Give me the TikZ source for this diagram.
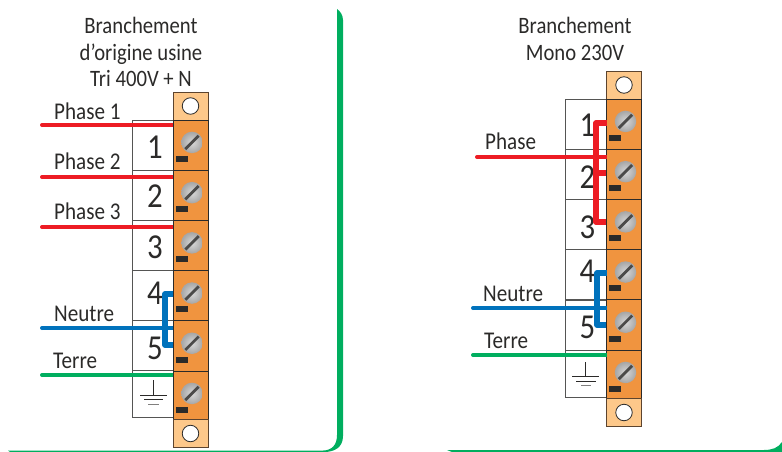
\documentclass[tikz,border=0pt]{standalone}
\usepackage{fontspec}
\setmainfont[FakeStretch=0.88]{Carlito}
\usepackage{xcolor}
\definecolor{bornier}{HTML}{F0943F}
\definecolor{capot}{HTML}{FDC88A}
\definecolor{filrouge}{HTML}{ED1C24}
\definecolor{filbleu}{HTML}{0072BC}
\definecolor{filvert}{HTML}{00AE5F}
\definecolor{encre}{HTML}{2B2A29}
\tikzset{
	cell/.style={draw=encre, line width=0.8pt, fill=bornier, minimum width=35pt, minimum height=50.5pt, inner sep=0pt, outer sep=0pt},
	endcap/.style={draw=encre!75!bornier, line width=0.9pt, fill=capot, minimum width=35pt, minimum height=28pt, inner sep=0pt, outer sep=0pt},
	box/.style={draw=encre!80, line width=0.8pt, fill=white, minimum width=41pt, minimum height=50pt, inner sep=0pt, outer sep=0pt},
	num/.style={font=\fontsize{35}{35}\selectfont, text=encre, inner sep=0pt},
	hole/.style={circle, draw=encre, line width=0.8pt, fill=white, minimum size=16.5pt, inner sep=0pt},
	screw/.style={circle, minimum size=21.5pt, inner sep=0pt, inner color=gray!30, outer color=gray!70},
	tag/.style={fill=encre, minimum width=12pt, minimum height=6pt, inner sep=0pt},
	lbl/.style={font=\fontsize{24}{24}\selectfont, text=encre, inner sep=0pt, anchor=base west},
	head/.style={font=\fontsize{23.5}{26.5}\selectfont, text=encre, align=center, inner sep=0pt},
	wire/.style={line width=4pt},
	bridge/.style={line width=5.5pt, line join=round},
	greenframe/.style={filvert, line width=0.1pt}
}
% one strip of terminals: prefix, x of the strip centre, top of the first cell
\newcommand{\strip}[3]{
	\node[endcap] (#1c0) at (#2,#3-14) {};
	\node[hole] (#1h0) at (#1c0) {};
	\foreach \i [evaluate=\i as \yy using #3+25.25+50.2*(\i-1)] in {1,...,6}
	{
		\node[cell] (#1c\i) at (#2,\yy) {};
		\node[screw] (#1s\i) at (#2+1.5,\yy-2.8) {};
		\draw[encre!85, line width=2.8pt, shorten >=1.5pt, shorten <=1.5pt] (#1s\i.south west) -- (#1s\i.north east);
		\node[tag] (#1t\i) at (#2-9,\yy+13.5) {};
	}
	\node[endcap] (#1c7) at (#2,#3+313.5) {};
	\node[hole] (#1h7) at (#1c7) {};
}
\begin{document}
\begin{tikzpicture}[x=1pt,y=-1pt]
\useasboundingbox (0,0) rectangle (782,452);

% green frames
\fill[greenframe] (8,450.6) -- (322,450.6) .. controls (332,450.6) and (337,445) .. (337,435) -- (337,9) .. controls (340,11) and (343,15) .. (343,20) -- (343,436) .. controls (343,447) and (335,452) .. (324,452) -- (10,452) -- cycle;
\fill[greenframe] (447,450) -- (764,450) .. controls (772,450) and (778,448) .. (782,442) -- (782,452) -- (452,452) -- cycle;

% left strip
\foreach \i/\yy in {1/145,2/195,3/245,4/295,5/345}
{
	\node[box] (lb\i) at (152.5,\yy) {};
}
\node[box, minimum height=47pt] (lb6) at (152.5,393.5) {};
\foreach \i/\yy in {1/147,2/196.5,3/247,4/293,5/348}
{
	\node[num] (ln\i) at (155,\yy) {\i};
}
\strip{l}{190.5}{120}
\draw[encre, line width=0.7pt] (153.5,380) -- (153.5,395) (140,395) -- (167,395) (144,399.5) -- (163,399.5);
\draw[encre!60, line width=1pt] (148,404) -- (159,404);

% right strip
\foreach \i/\yy in {1/124,2/174,3/224,4/274.5,5/325}
{
	\node[box] (rb\i) at (585.5,\yy) {};
}
\node[box, minimum height=47pt] (rb6) at (585.5,373.5) {};
\foreach \i/\yy in {1/125,2/177,3/227,4/271,5/327}
{
	\node[num] (rn\i) at (587.5,\yy) {\i};
}
\strip{r}{624}{99}
\draw[encre, line width=0.7pt] (585.5,362) -- (585.5,376.5) (572,376.5) -- (599,376.5) (576,381) -- (596,381);
\draw[encre!60, line width=1pt] (581,385) -- (591,385);

% wires left
\coordinate (p1) at (42,125);
\coordinate (p2) at (42,177);
\coordinate (p3) at (42,227);
\coordinate (pn) at (42,328);
\coordinate (pt) at (42,375);
\foreach \from/\to/\col in {p1/lc1/filrouge,p2/lc2/filrouge,p3/lc3/filrouge,pn/lc5/filbleu,pt/lc6/filvert}
{
	\draw[wire, \col] (\from) -- (\from -| \to.west);
	\fill[\col] (\from) circle (2pt);
}
\coordinate (lbr) at (165,294);
\draw[bridge, filbleu] (lbr -| lc4.west) -- (lbr) -- (165,345) -- (173,345);

% wires right
\coordinate (qp) at (477,157);
\coordinate (qn) at (473,308);
\coordinate (qt) at (473,355);
\foreach \from/\to/\col in {qp/rc2/filrouge,qn/rc5/filbleu,qt/rc6/filvert}
{
	\draw[wire, \col] (\from) -- (\from -| \to.west);
	\fill[\col] (\from) circle (2pt);
}
\coordinate (rbr) at (596,123);
\draw[bridge, filrouge] (rbr -| rc1.west) -- (rbr) -- (596,222) -- (606,222);
\draw[bridge, filrouge] (596,173) -- (606,173);
\coordinate (sbr) at (597,273);
\draw[bridge, filbleu] (sbr -| rc4.west) -- (sbr) -- (597,325) -- (606,325);

% labels
\node[lbl] (t1) at (54,119) {Phase 1};
\node[lbl] (t2) at (54,169) {Phase 2};
\node[lbl] (t3) at (54,219) {Phase 3};
\node[lbl] (t4) at (54,321) {Neutre};
\node[lbl] (t5) at (53,368) {Terre};
\node[lbl] (t6) at (485,149) {Phase};
\node[lbl] (t7) at (483,301) {Neutre};
\node[lbl] (t8) at (484,348) {Terre};
\node[head] (h1) at (141,52) {Branchement\\d'origine usine\\Tri 400V + N};
\node[head] (h2) at (575,39) {Branchement\\Mono 230V};

\end{tikzpicture}
\end{document}
